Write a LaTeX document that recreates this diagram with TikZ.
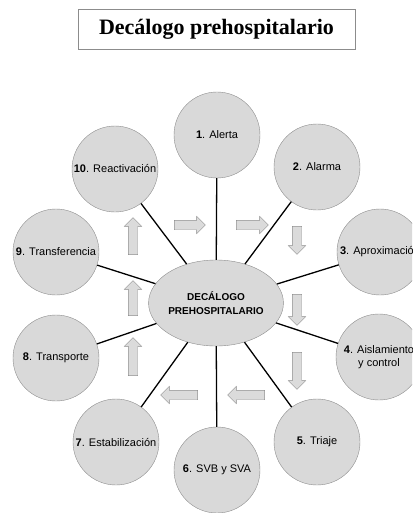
\documentclass[tikz,border=0pt]{standalone}
\usepackage{fontspec}
\setmainfont{Liberation Sans}
\newfontfamily\titlefont{Liberation Serif}
\usetikzlibrary{shapes.geometric,shapes.arrows}

\definecolor{discfill}{gray}{0.85}
\definecolor{discline}{gray}{0.55}
\definecolor{arrowfill}{gray}{0.86}

\begin{document}
\begin{tikzpicture}[x=1pt,y=-1pt,
   step disc/.style={circle,draw=discline,fill=discfill,minimum size=86pt,inner sep=0pt,
     font=\fontsize{11}{13}\selectfont,align=center},
   hub/.style={ellipse,draw=discline,fill=discfill,minimum width=122pt,minimum height=86pt,
     inner sep=0pt,align=center,font=\fontsize{10}{13.5}\selectfont\bfseries},
   spoke/.style={line width=1.3pt,black},
   flow/.style={single arrow,draw=discline,fill=arrowfill,inner sep=4.5pt,
     minimum width=0pt,single arrow head extend=4pt,single arrow head indent=0pt},
   flow right/.style={flow,minimum height=#1},
   flow down/.style={flow,shape border rotate=270,minimum height=#1},
   flow left/.style={flow,shape border rotate=180,minimum height=#1},
   flow up/.style={flow,shape border rotate=90,minimum height=#1}]
\useasboundingbox (0,0) rectangle (412,513);
\clip (0,0) rectangle (412,513);

% title
\node[draw=discline,line width=0.8pt,minimum width=277pt,minimum height=40pt,
   font=\titlefont\fontsize{22}{26}\selectfont\bfseries] (title) at (216.5,29) {Decálogo prehospitalario};

% centre and the ten steps
\node[hub] (hub) at (216,303) {DECÁLOGO\\PREHOSPITALARIO};
\node[step disc] (c1) at (217,135) {\textbf{1}. Alerta};
\node[step disc] (c2) at (317,167) {\textbf{2}. Alarma};
\node[step disc] (c3) at (380,252) {\textbf{3}. Aproximación};
\node[step disc] (c4) at (379,357) {\textbf{4}. Aislamiento\\y control};
\node[step disc] (c5) at (317,442) {\textbf{5}. Triaje};
\node[step disc] (c6) at (217,470) {\textbf{6}. SVB y SVA};
\node[step disc] (c7) at (116,442) {\textbf{7}. Estabilización};
\node[step disc] (c8) at (56,358) {\textbf{8}. Transporte};
\node[step disc] (c9) at (56,252) {\textbf{9}. Transferencia};
\node[step disc] (c10) at (115,169) {\textbf{10}. Reactivación};

\foreach \n in {1,...,10}
  \draw[spoke] (hub) -- (c\n);

% block arrows round the hub
\node[flow right=31pt] (r1) at (187.5,225) {};
\node[flow right=32pt] (r2) at (250,225) {};
\node[flow down=28pt] (d1) at (297,238) {};
\node[flow down=31pt] (d2) at (297,307.5) {};
\node[flow down=37pt] (d3) at (297,368.5) {};
\node[flow left=37pt] (l1) at (248.5,395) {};
\node[flow left=37pt] (l2) at (181.5,395) {};
\node[flow up=38pt] (u1) at (133,359) {};
\node[flow up=35pt] (u2) at (133,300.5) {};
\node[flow up=37pt] (u3) at (133,238.5) {};
\end{tikzpicture}
\end{document}
